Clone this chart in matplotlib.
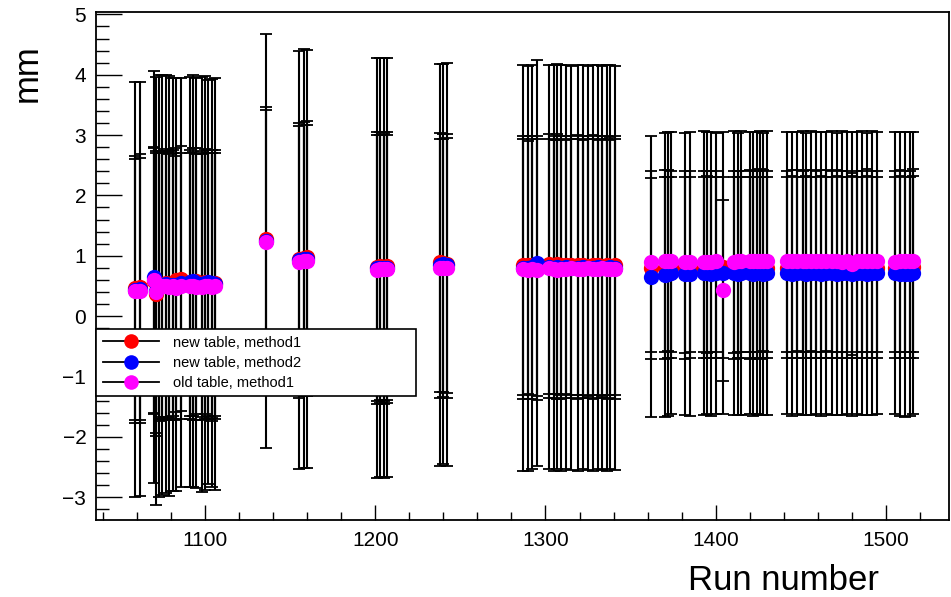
import matplotlib
matplotlib.use("Agg")
import matplotlib.pyplot as plt
from matplotlib.lines import Line2D
from matplotlib.ticker import MultipleLocator

plt.rcParams['font.family'] = ['Liberation Sans', 'DejaVu Sans']

# Run numbers, one entry per run
run_number = [
    1059, 1062,
    1070, 1071, 1073, 1075, 1077, 1079, 1081, 1083, 1086, 1091, 1093, 1095, 1098, 1100, 1102, 1104, 1106,
    1136,
    1155, 1158, 1160,
    1201, 1203, 1205, 1207,
    1238, 1240, 1242,
    1287, 1290, 1292, 1295, 1302, 1305, 1307, 1309, 1312, 1315, 1319, 1322, 1325, 1328, 1331, 1333, 1336, 1338, 1341,
    1362, 1370, 1372, 1374, 1382, 1385, 1393, 1395, 1397, 1400, 1404, 1411, 1413, 1415, 1420, 1422, 1424, 1426, 1428, 1430,
    1442, 1445, 1448, 1451, 1453, 1456, 1459, 1462, 1465, 1468, 1471, 1474, 1477, 1480, 1483, 1486, 1489, 1492, 1495,
    1505, 1508, 1511, 1514, 1516,
]

# new table, method1 [mm]
new_method1 = [
    0.46, 0.48,
    0.58, 0.36, 0.52, 0.53, 0.55, 0.52, 0.55, 0.60, 0.62, 0.55, 0.56, 0.58, 0.53, 0.57, 0.55, 0.53, 0.55,
    1.27,
    0.95, 0.97, 0.98,
    0.82, 0.83, 0.82, 0.83,
    0.89, 0.88, 0.87,
    0.84, 0.85, 0.84, 0.83, 0.86, 0.85, 0.86, 0.84, 0.85, 0.84, 0.85, 0.84, 0.83, 0.85, 0.84, 0.83, 0.84, 0.83, 0.84,
    0.79, 0.80, 0.80, 0.81, 0.80, 0.80, 0.80, 0.81, 0.80, 0.80, 0.81, 0.80, 0.80, 0.80, 0.80, 0.81, 0.80, 0.80, 0.80, 0.80,
    0.80, 0.81, 0.80, 0.80, 0.81, 0.80, 0.80, 0.81, 0.80, 0.80, 0.81, 0.80, 0.80, 0.81, 0.80, 0.80, 0.81, 0.80, 0.80,
    0.80, 0.81, 0.80, 0.80, 0.81,
]

# new table, method2 [mm]
new_method2 = [
    0.44, 0.45,
    0.65, 0.42, 0.50, 0.52, 0.53, 0.50, 0.52, 0.52, 0.55, 0.57, 0.58, 0.55, 0.53, 0.55, 0.57, 0.55, 0.53,
    1.25,
    0.93, 0.95, 0.95,
    0.80, 0.80, 0.79, 0.80,
    0.85, 0.86, 0.85,
    0.80, 0.79, 0.81, 0.88, 0.81, 0.80, 0.82, 0.80, 0.81, 0.80, 0.80, 0.81, 0.80, 0.80, 0.81, 0.80, 0.80, 0.81, 0.80,
    0.65, 0.68, 0.70, 0.71, 0.70, 0.70, 0.71, 0.71, 0.70, 0.71, 0.71, 0.71, 0.70, 0.71, 0.71, 0.70, 0.71, 0.71, 0.70, 0.71,
    0.71, 0.70, 0.71, 0.71, 0.70, 0.71, 0.71, 0.70, 0.71, 0.71, 0.70, 0.71, 0.71, 0.70, 0.71, 0.71, 0.70, 0.71, 0.71,
    0.71, 0.70, 0.69, 0.70, 0.71,
]

# old table, method1 [mm]
old_method1 = [
    0.42, 0.42,
    0.60, 0.40, 0.48, 0.50, 0.50, 0.48, 0.50, 0.47, 0.50, 0.50, 0.50, 0.48, 0.48, 0.50, 0.50, 0.48, 0.50,
    1.22,
    0.90, 0.92, 0.92,
    0.77, 0.78, 0.78, 0.78,
    0.79, 0.80, 0.80,
    0.78, 0.77, 0.78, 0.77, 0.79, 0.78, 0.77, 0.78, 0.78, 0.79, 0.78, 0.78, 0.79, 0.78, 0.78, 0.79, 0.78, 0.78, 0.78,
    0.90, 0.91, 0.92, 0.91, 0.90, 0.90, 0.90, 0.90, 0.90, 0.91, 0.43, 0.90, 0.91, 0.91, 0.91, 0.91, 0.91, 0.92, 0.92, 0.91,
    0.91, 0.91, 0.92, 0.91, 0.91, 0.92, 0.91, 0.91, 0.92, 0.91, 0.91, 0.90, 0.91, 0.86, 0.91, 0.91, 0.92, 0.91, 0.91,
    0.90, 0.91, 0.91, 0.91, 0.92,
]

# uncertainties [mm]: method2 and the two method1 series
err_method2 = [
    3.44, 3.43,
    3.41, 3.55, 3.50, 3.48, 3.47, 3.48, 3.42, 3.42, 3.39, 3.40, 3.41, 3.40, 3.44, 3.43, 3.35, 3.38, 3.42,
    3.43,
    3.46, 3.47, 3.46,
    3.48, 3.47, 3.48, 3.47,
    3.33, 3.32, 3.34,
    3.36, 3.36, 3.35, 3.37, 3.35, 3.36, 3.35, 3.36, 3.35, 3.35, 3.36, 3.35, 3.35, 3.36, 3.35, 3.35, 3.36, 3.35, 3.35,
    2.33, 2.35, 2.35, 2.34, 2.34, 2.35, 2.35, 2.34, 2.35, 2.33, 2.34, 2.35, 2.34, 2.35, 2.34, 2.35, 2.34, 2.35, 2.34, 2.35,
    2.34, 2.35, 2.34, 2.35, 2.34, 2.35, 2.34, 2.35, 2.34, 2.35, 2.34, 2.35, 2.34, 2.35, 2.34, 2.35, 2.34, 2.35, 2.34,
    2.34, 2.35, 2.36, 2.35, 2.34,
]
err_method1 = [
    2.19, 2.20,
    2.20, 2.34, 2.22, 2.21, 2.22, 2.21, 2.20, 2.19, 2.20, 2.21, 2.22, 2.20, 2.21, 2.20, 2.21, 2.22, 2.20,
    2.20,
    2.25, 2.24, 2.25,
    2.23, 2.22, 2.23, 2.22,
    2.15, 2.14, 2.15,
    2.15, 2.14, 2.15, 2.16, 2.15, 2.14, 2.15, 2.15, 2.14, 2.15, 2.15, 2.14, 2.15, 2.15, 2.14, 2.15, 2.15, 2.14, 2.15,
    1.50, 1.51, 1.50, 1.50, 1.51, 1.50, 1.50, 1.51, 1.50, 1.50, 1.50, 1.51, 1.50, 1.50, 1.51, 1.50, 1.50, 1.51, 1.50, 1.50,
    1.50, 1.51, 1.50, 1.50, 1.51, 1.50, 1.50, 1.51, 1.50, 1.50, 1.51, 1.50, 1.50, 1.51, 1.50, 1.50, 1.51, 1.50, 1.50,
    1.50, 1.51, 1.50, 1.50, 1.51,
]

series = [
    ("new table, method1", new_method1, err_method1, "#ff0000"),
    ("new table, method2", new_method2, err_method2, "#0000ff"),
    ("old table, method1", old_method1, err_method1, "#ff00ff"),
]

fig = plt.figure(figsize=(9.51, 5.97), dpi=100)
ax = fig.add_axes([96 / 951, 77 / 597, 853 / 951, 508 / 597])

# error bars first, then the markers on top
for label, vals, errs, color in series:
    ax.errorbar(run_number, vals, yerr=errs, fmt="none", ecolor="black",
                elinewidth=1.5, capsize=4, capthick=1.3, zorder=2)
for label, vals, errs, color in series:
    ax.plot(run_number, vals, linestyle="none", marker="o", markersize=11,
            markerfacecolor=color, markeredgewidth=0, zorder=3)

ax.set_xlim(1036, 1537)
ax.set_ylim(-3.38, 5.04)

ax.xaxis.set_major_locator(MultipleLocator(100))
ax.xaxis.set_minor_locator(MultipleLocator(20))
ax.yaxis.set_major_locator(MultipleLocator(1))
ax.yaxis.set_minor_locator(MultipleLocator(0.2))

ax.tick_params(axis="both", which="both", direction="in", width=1.0, colors="black",
               labelsize=15)
ax.tick_params(axis="y", which="major", length=19, pad=7)
ax.tick_params(axis="y", which="minor", length=9.5)
ax.tick_params(axis="x", which="major", length=11, pad=8)
ax.tick_params(axis="x", which="minor", length=5.5)
ax.tick_params(top=False, right=False)

for sp in ax.spines.values():
    sp.set_linewidth(1.3)
    sp.set_color("black")

fig.text(879 / 951, 1 - 590 / 597, "Run number", fontsize=25, ha="right", va="baseline")
fig.text(27 / 951, 1 - 73 / 597, "mm", fontsize=25, rotation=90, ha="center", va="center")

handles = [Line2D([], [], color="black", lw=1.3, marker="o", markersize=10.5,
                  markerfacecolor=c, markeredgewidth=0)
           for _, _, _, c in series]
labels = [s[0] for s in series]
leg = fig.legend(handles, labels, loc="upper left",
                 bbox_to_anchor=(96 / 951, 1 - 393 / 597, 320 / 951, 64 / 597),
                 bbox_transform=fig.transFigure, mode="expand", borderaxespad=0,
                 fontsize=10.5, handlelength=3.9, handletextpad=0.9,
                 labelspacing=0.42, borderpad=0.45, fancybox=False, framealpha=1,
                 edgecolor="black")
leg.get_frame().set_linewidth(1.2)
leg.set_zorder(5)

fig.savefig("out.png", dpi=100)
